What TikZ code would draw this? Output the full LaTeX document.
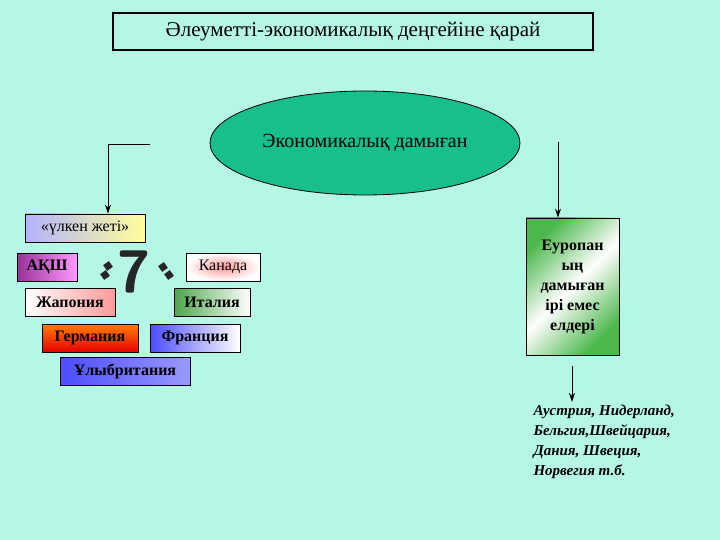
\documentclass[tikz,border=0pt]{standalone}
\usepackage{fontspec}
\setmainfont{Liberation Serif}
\usetikzlibrary{shapes.geometric,arrows.meta}
\definecolor{bg}{RGB}{182,246,230}
\definecolor{ell}{RGB}{24,190,140}
\tikzset{
 box/.style={draw=black,line width=0.8pt,inner sep=0pt,font=\fontsize{16}{17}\selectfont\bfseries},
 arr/.style={-{Stealth[length=9pt,width=6pt]},line width=1pt},
 qmark/.style={fill=black!85,rotate=35,minimum size=7pt,inner sep=0pt},
}
\begin{document}
\begin{tikzpicture}[x=1pt,y=-1pt]
\fill[bg] (0,0) rectangle (720,540);
\useasboundingbox (0,0) rectangle (720,540);
\node[draw,line width=1.2pt,fill=bg,minimum width=480,minimum height=37,font=\fontsize{21}{22}\selectfont] (title) at (353,31.5) {Әлеуметті-экономикалық деңгейіне қарай};
\node[ellipse,draw,line width=0.8pt,fill=ell,minimum width=310,minimum height=104,font=\fontsize{20}{21}\selectfont] (ec) at (365,143) {Экономикалық дамыған};
\coordinate (lt) at (150,145);
\coordinate (lc) at (108,145);
\coordinate (rt) at (558,142);
\node[box,font=\fontsize{16}{17}\selectfont,left color=blue!30,right color=yellow!40,minimum width=120,minimum height=28] (g7) at (85,228) {«үлкен жеті»};
\draw[line width=1pt] (lt) -- (lc);
\draw[arr] (lc) -- (g7.north -| lc);
\node[box,left color=violet!80,right color=magenta!40,minimum width=60,minimum height=28] (usa) at (47,267) {АҚШ};
\node[box,left color=white,right color=red!40,minimum width=90,minimum height=28] (jap) at (70,302) {Жапония};
\node[box,top color=orange,bottom color=red!90!black,minimum width=96,minimum height=28] (ger) at (90,338) {Германия};
\node[box,left color=blue!70,right color=white,minimum width=90,minimum height=28] (fra) at (195,338) {Франция};
\node[box,left color=blue!70,right color=blue!40,minimum width=130,minimum height=28] (uk) at (125,371) {Ұлыбритания};
\node[box,font=\fontsize{16}{17}\selectfont,inner color=red!40,outer color=white,minimum width=74,minimum height=28] (can) at (223,267) {Канада};
\node[box,left color=green!50!black!70,right color=white,minimum width=76,minimum height=28] (ita) at (212,302) {Италия};
\node[font=\fontsize{60}{60}\sffamily\bfseries,text=black!85] (seven) at (134,272) {7};
\node[qmark] (q1) at (108,266) {};
\node[qmark] (q2) at (105,275) {};
\node[qmark] (q3) at (163,267) {};
\node[qmark] (q4) at (169,275) {};
\node[box,align=center,left color=green!60!black!70,right color=green!60!black!70,middle color=white,shading angle=45,minimum width=93,minimum height=137,font=\fontsize{16}{20}\selectfont\bfseries] (eu) at (572.5,286.5) {Еуропан\\ың\\дамыған\\ірі емес\\елдері};
\draw[arr] (rt) -- (rt|-eu.north);
\coordinate (eb) at (572,366);
\node[anchor=north west,align=left,font=\fontsize{15}{20}\selectfont\bfseries\itshape] (lst) at (530,402) {Аустрия, Нидерланд,\\Бельгия,Швейцария,\\Дания, Швеция,\\Норвегия т.б.};
\draw[arr] (eb) -- (eb|-lst.north);
\end{tikzpicture}
\end{document}
